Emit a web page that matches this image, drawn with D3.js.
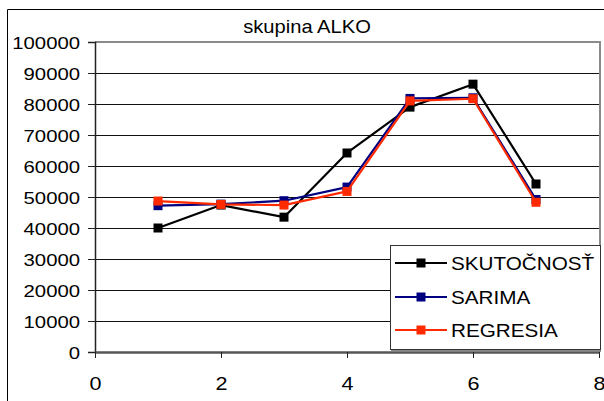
<!DOCTYPE html>
<html>
<head>
<meta charset="utf-8">
<script src="https://cdn.jsdelivr.net/npm/d3@7"></script>
<style>
  html, body { margin: 0; padding: 0; background: #fff; }
  svg { display: block; font-family: Arial, "Liberation Sans", sans-serif; }
</style>
</head>
<body>
<svg id="chart" width="604" height="401"></svg>
<script>
// Series data: period index and the three value series
const periods = [1, 2, 3, 4, 5, 6, 7];
const skutocnost = [40000, 47400, 43500, 64200, 79000, 86400, 54200];
const sarima = [47200, 47700, 48800, 53200, 81800, 82000, 49200];
const regresia = [48700, 47600, 47400, 51800, 81000, 81700, 48300];
const seriesNames = ["SKUTOČNOSŤ", "SARIMA", "REGRESIA"];
const seriesColors = ["#000000", "#000080", "#ff2a00"];
const yTicks = [0, 10000, 20000, 30000, 40000, 50000, 60000, 70000, 80000, 90000, 100000];
const xTicks = [0, 2, 4, 6, 8];
const title = "skupina ALKO";

const svg = d3.select("#chart");
const plot = { left: 95, right: 599, top: 42, bottom: 352 };

const x = d3.scaleLinear().domain([0, 8]).range([plot.left, plot.right]);
const y = d3.scaleLinear().domain([0, 100000]).range([plot.bottom, plot.top]);

// Outer chart frame (left and top edges)
svg.append("path")
  .attr("d", "M7.5,401 V9.5 H604")
  .attr("fill", "none").attr("stroke", "#000").attr("stroke-width", 1);

// Title
svg.append("text")
  .attr("transform", `translate(307,33) scale(1.12,1)`)
  .attr("text-anchor", "middle")
  .attr("font-size", 18)
  .text(title);

// Horizontal gridlines
svg.append("g").selectAll("line")
  .data(yTicks.filter(d => d > 0 && d < 100000))
  .join("line")
  .attr("x1", plot.left).attr("x2", plot.right)
  .attr("y1", d => Math.round(y(d)) + 0.5).attr("y2", d => Math.round(y(d)) + 0.5)
  .attr("stroke", "#111").attr("stroke-width", 1);

// Plot area border (top and right, grey)
svg.append("path")
  .attr("d", `M${plot.left},${plot.top} H${plot.right + 1} V${plot.bottom}`)
  .attr("fill", "none").attr("stroke", "#8a8a8a").attr("stroke-width", 2);

// Y axis
const yAxis = d3.axisLeft(y).tickValues(yTicks).tickSize(7).tickFormat(d3.format("d"));
const gy = svg.append("g").attr("transform", `translate(${plot.left},0)`).call(yAxis);
gy.select(".domain").attr("stroke", "#222").attr("stroke-width", 1.5);
gy.selectAll(".tick line").attr("stroke", "#222");
gy.selectAll(".tick text")
  .attr("font-size", 16).attr("font-family", "Arial, 'Liberation Sans', sans-serif")
  .attr("fill", "#000")
  .attr("x", null).attr("dy", null)
  .attr("text-anchor", "end")
  .attr("transform", "translate(-15,6) scale(1.27,1)");

// X axis
const xAxis = d3.axisBottom(x).tickValues(xTicks).tickSize(6).tickSizeOuter(0).tickFormat(d3.format("d"));
const gx = svg.append("g").attr("transform", `translate(0,${plot.bottom})`).call(xAxis);
gx.select(".domain").attr("stroke", "#555").attr("stroke-width", 2.5);
gx.selectAll(".tick line").attr("stroke", "#222");
gx.selectAll(".tick text")
  .attr("font-size", 18).attr("font-family", "Arial, 'Liberation Sans', sans-serif")
  .attr("fill", "#000")
  .attr("y", null).attr("dy", null)
  .attr("transform", "translate(0,38) scale(1.2,1)");

// Series lines and square markers
const allSeries = [skutocnost, sarima, regresia];
const line = d3.line().x((d, i) => x(periods[i])).y(d => y(d));
const ms = 9;
allSeries.forEach((vals, k) => {
  const g = svg.append("g");
  g.append("path").datum(vals)
    .attr("d", line)
    .attr("fill", "none")
    .attr("stroke", seriesColors[k])
    .attr("stroke-width", 2.2)
    .attr("stroke-linejoin", "round");
  g.selectAll("rect").data(vals).join("rect")
    .attr("x", (d, i) => x(periods[i]) - ms / 2)
    .attr("y", d => y(d) - ms / 2)
    .attr("width", ms).attr("height", ms)
    .attr("fill", seriesColors[k]);
});

// Legend
const legend = svg.append("g");
legend.append("rect")
  .attr("x", 390.5).attr("y", 245.5).attr("width", 210).attr("height", 104)
  .attr("fill", "#fff").attr("stroke", "#333").attr("stroke-width", 1);
legend.append("line")
  .attr("x1", 391).attr("x2", 601).attr("y1", 350.5).attr("y2", 350.5)
  .attr("stroke", "#888").attr("stroke-width", 1);
const rowY = [263, 297, 330];
seriesNames.forEach((name, k) => {
  legend.append("line")
    .attr("x1", 395).attr("x2", 447)
    .attr("y1", rowY[k]).attr("y2", rowY[k])
    .attr("stroke", seriesColors[k]).attr("stroke-width", 2.2);
  legend.append("rect")
    .attr("x", 421 - ms / 2).attr("y", rowY[k] - ms / 2)
    .attr("width", ms).attr("height", ms)
    .attr("fill", seriesColors[k]);
  legend.append("text")
    .attr("transform", `translate(451,${rowY[k] + 7}) scale(1.15,1)`)
    .attr("font-size", 18)
    .text(name);
});
</script>
</body>
</html>
